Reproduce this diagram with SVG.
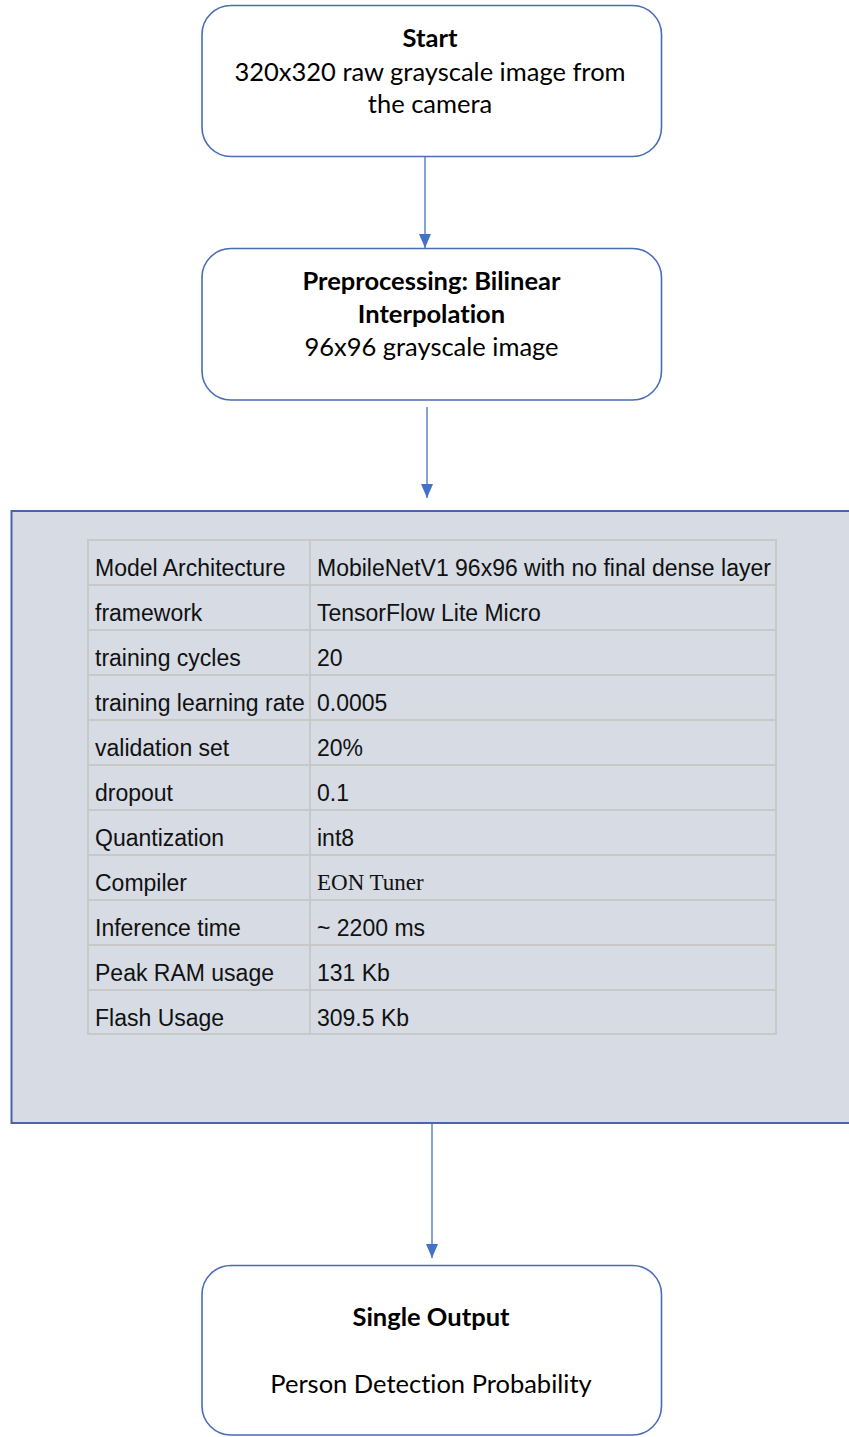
<svg xmlns="http://www.w3.org/2000/svg" width="849" height="1437" viewBox="0 0 849 1437">
<style>
.box{fill:#ffffff;stroke:#4a6cb3;stroke-width:1.6}
.bt{font-family:Lato,"Liberation Sans",sans-serif;font-size:25.5px;fill:#000;text-anchor:middle;font-variant-ligatures:none}
.bb{font-weight:bold}
.conn{stroke:#4472c4;stroke-width:1.3;fill:none}
.grid{stroke:#c8c8c8;stroke-width:2;fill:none}
.tt{font-family:"Liberation Sans",Arial,sans-serif;font-size:23px;fill:#111}
.ts{font-family:"Liberation Serif","Times New Roman",serif;font-size:23px;fill:#111}
</style>
<defs>
<marker id="arr" viewBox="0 0 14 12" refX="14" refY="6" markerWidth="14" markerHeight="12" markerUnits="userSpaceOnUse" orient="auto">
<path d="M0,0 L14,6 L0,12 Z" fill="#4472c4"/>
</marker>
</defs>

<g id="model-panel">
<rect x="11.5" y="511" width="850" height="612" fill="#d6dbe4" stroke="#4a64a8" stroke-width="2"/>
<g id="table">
<rect class="grid" x="88" y="540" width="688" height="494"/>
<line class="grid" x1="310" y1="540" x2="310" y2="1034"/>
<line class="grid" x1="88" y1="585" x2="776" y2="585"/>
<line class="grid" x1="88" y1="630" x2="776" y2="630"/>
<line class="grid" x1="88" y1="675" x2="776" y2="675"/>
<line class="grid" x1="88" y1="720" x2="776" y2="720"/>
<line class="grid" x1="88" y1="765" x2="776" y2="765"/>
<line class="grid" x1="88" y1="810" x2="776" y2="810"/>
<line class="grid" x1="88" y1="855" x2="776" y2="855"/>
<line class="grid" x1="88" y1="900" x2="776" y2="900"/>
<line class="grid" x1="88" y1="945" x2="776" y2="945"/>
<line class="grid" x1="88" y1="990" x2="776" y2="990"/>
<text class="tt" x="95" y="576">Model Architecture</text>
<text class="tt" x="317" y="576">MobileNetV1 96x96 with no final dense layer</text>
<text class="tt" x="95" y="621">framework</text>
<text class="tt" x="317" y="621">TensorFlow Lite Micro</text>
<text class="tt" x="95" y="666">training cycles</text>
<text class="tt" x="317" y="666">20</text>
<text class="tt" x="95" y="711">training learning rate</text>
<text class="tt" x="317" y="711">0.0005</text>
<text class="tt" x="95" y="756">validation set</text>
<text class="tt" x="317" y="756">20%</text>
<text class="tt" x="95" y="801">dropout</text>
<text class="tt" x="317" y="801">0.1</text>
<text class="tt" x="95" y="846">Quantization</text>
<text class="tt" x="317" y="846">int8</text>
<text class="tt" x="95" y="891">Compiler</text>
<text class="ts" x="317" y="890">EON Tuner</text>
<text class="tt" x="95" y="936">Inference time</text>
<text class="tt" x="317" y="936">~ 2200 ms</text>
<text class="tt" x="95" y="981">Peak RAM usage</text>
<text class="tt" x="317" y="981">131 Kb</text>
<text class="tt" x="95" y="1026">Flash Usage</text>
<text class="tt" x="317" y="1026">309.5 Kb</text>
</g>
</g>

<g id="connectors">
<line class="conn" x1="425" y1="157" x2="425" y2="248" marker-end="url(#arr)"/>
<line class="conn" x1="427" y1="407" x2="427" y2="498" marker-end="url(#arr)"/>
<line class="conn" x1="432" y1="1123" x2="432" y2="1258" marker-end="url(#arr)"/>
</g>

<g id="start">
<rect class="box" x="202" y="5.5" width="459.5" height="151" rx="29" ry="29"/>
<text class="bt bb" x="430" y="47">Start</text>
<text class="bt" x="430" y="81">320x320 raw grayscale image from</text>
<text class="bt" x="430" y="113">the camera</text>
</g>

<g id="preprocessing">
<rect class="box" x="202" y="248.5" width="459.5" height="151.5" rx="29" ry="29"/>
<text class="bt bb" x="431.5" y="289.5">Preprocessing: Bilinear</text>
<text class="bt bb" x="431.5" y="323">Interpolation</text>
<text class="bt" x="431.5" y="355.5">96x96 grayscale image</text>
</g>

<g id="output">
<rect class="box" x="202" y="1265.5" width="459.5" height="169.5" rx="29" ry="29"/>
<text class="bt bb" x="431" y="1326">Single Output</text>
<text class="bt" x="431" y="1393">Person Detection Probability</text>
</g>
</svg>
